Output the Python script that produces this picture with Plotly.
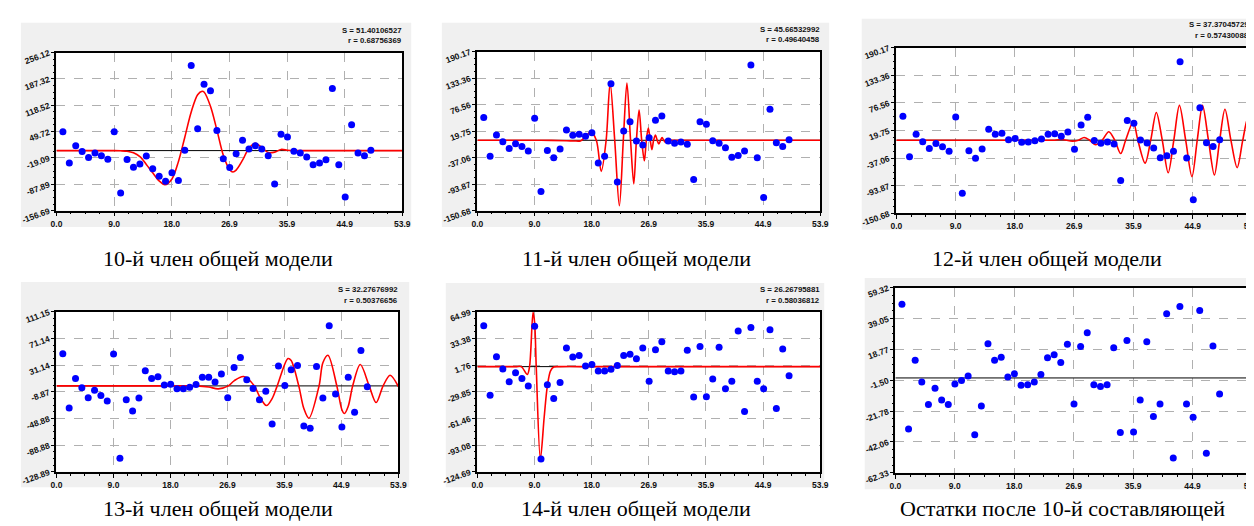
import numpy as np
import plotly.graph_objects as go

W, H = 1254, 526

# ---------------- data ----------------
X_IDX = list(range(1, 50))

DOTS_10 = [48.9, -32.5, 12.8, -2.3, -18.3, -6.5, -13.2, -22.4, 48.9, -110.5,
           -23.3, -43.4, -35.0, -14.1, -47.6, -66.9, -80.3, -57.7, -77.8, 1.0,
           222.5, 57.3, 173.0, 156.3, 52.2, -21.6, -44.3, -8.2, 27.1, 4.4,
           12.8, 4.4, -13.2, -87.1, 43.0, 35.4, -1.5, -6.5, -16.6, -36.7,
           -32.5, -24.1, 162.1, -36.7, -121.5, 67.3, -6.5, -13.2, 1.0]
DOTS_11 = [48.7, -34.1, 11.5, -3.0, -17.5, -7.2, -13.4, -23.0, 47.4, -110.0,
           -21.7, -37.5, -18.9, 21.8, 10.8, 12.9, 8.7, 16.3, -48.6, -34.1,
           121.2, -89.3, 19.7, 39.8, -1.6, -9.9, 5.3, 43.2, 52.2, -1.6,
           -6.5, -3.7, -8.5, -83.8, 39.8, 34.2, -0.9, -6.5, -16.1, -36.1,
           -32.7, -23.0, 161.2, -37.5, -122.4, 66.7, -5.1, -13.4, 1.1]
DOTS_12 = [49.1, -34.0, 12.2, -3.0, -16.9, -7.0, -13.6, -22.8, 47.8, -109.1,
           -21.5, -37.3, -18.2, 22.7, 12.2, 14.2, 1.0, 3.6, -4.3, -3.6,
           -1.0, 2.3, 12.2, 13.5, 8.2, 16.8, -18.8, 31.3, 47.1, -0.4,
           -6.3, -3.6, -7.6, -82.8, 40.5, 34.6, 0.3, -5.6, -16.2, -36.0,
           -32.0, -22.8, 161.2, -36.6, -122.3, 66.9, -5.0, -12.9, 1.0]
DOTS_13 = [48.4, -33.3, 11.2, -2.8, -17.8, -6.7, -14.4, -22.6, 47.9, -108.6,
           -20.7, -37.6, -18.3, 22.8, 11.2, 13.6, 1.5, 2.5, -4.3, -4.3,
           -1.9, 2.0, 13.1, 13.1, 5.9, 17.9, -17.8, 27.6, 42.6, 9.2,
           -3.8, -20.7, -8.2, -57.0, 30.0, 0.5, 24.2, 30.5, -60.3, -63.7,
           29.0, -18.3, 90.4, -12.0, -61.8, 13.1, -39.6, 53.2, -1.4]
DOTS_14 = [48.6, -34.0, 11.7, -2.8, -18.0, -7.4, -14.2, -23.0, 47.9, -109.5,
           -21.5, -37.9, -18.8, 22.0, 11.3, 13.2, 0.6, 2.5, -5.1, -5.1,
           -3.2, 1.4, 13.2, 14.7, 9.4, 22.0, -17.3, 20.0, 29.6, -5.1,
           -6.2, -5.1, 19.3, -36.0, 23.9, -35.6, -14.6, 23.1, -26.1, -17.3,
           42.1, -53.1, 46.3, -17.3, -26.1, 43.7, -49.7, 20.8, -10.8]
DOTS_RES = [48.5, -33.6, 11.7, -2.7, -17.5, -6.7, -14.5, -17.5, -4.0, -1.6,
            1.3, -37.4, -18.4, 22.5, 11.7, 13.6, 0.7, 2.8, -4.8, -4.4,
            -2.7, 2.2, 13.2, 15.3, 10.2, 22.1, -17.1, 20.6, 29.7, -4.4,
            -5.7, -4.4, 19.9, -35.9, 24.6, -35.5, -14.5, 23.8, -25.3, -17.1,
            42.2, -52.6, 47.0, -17.1, -25.8, 44.3, -49.5, 21.0, -10.5]

CURVE_10_X = [0, 4, 8, 9, 10, 11, 12, 13, 14, 15, 16, 16.9, 18, 19, 20, 21, 22, 22.7, 23,
              24, 25, 26, 27, 27.5, 28, 29, 30, 31, 32, 33, 34, 35, 36, 37, 40, 45, 50, 53.9]
CURVE_10_Y = [0, 0, 0, 0, -0.5, -1.6, -5.9, -16, -36, -58, -79, -89, -74, -29, 35, 101, 146, 155, 153,
              116, 54, -12, -50, -56, -51, -25, 6, 19, 8, -5, -4, 3, 1, 0, 0, 0, 0, 0]

CURVE_11_X = [0, 5, 10, 14, 15.2, 16.2, 17.0, 17.86, 18.7, 19.47, 20.24, 20.87, 21.59, 22.32,
              22.94, 23.51, 24.08, 24.59, 25.0, 25.42, 25.83, 26.25, 26.56, 26.87, 27.18, 27.44,
              27.7, 28.0, 28.27, 28.53, 28.8, 29.04, 29.3, 29.51, 29.7, 29.93, 30.3, 31, 35, 40,
              45, 50, 53.9]
CURVE_11_Y = [0, 0, 0, -0.9, -1.4, -1.3, 7.7, 18, 0, -66.6, 0, 122.7, 0, -140.4,
              0, 122.7, 0, -93.5, 0, 64.8, 0, -43.9, 0, 26.3, 0, -19.9,
              0, 11.1, 0, -8.1, 0, 5.8, 0, -4, 0, 2.8, 0, 0, 0, 0,
              0, 0, 0]

CURVE_12_X = [0, 5, 10, 15, 20, 24, 25, 26.7, 27.6, 28.45, 29.3, 30.2, 31.2, 32.2, 33.1, 34.0,
              34.75, 35.9, 36.6, 37.7, 38.55, 39.4, 40.3, 41.2, 42.05, 42.9, 43.85, 44.8, 45.6,
              46.4, 47.3, 48.2, 49.0, 49.8, 50.7, 51.65, 52.5, 53.3, 53.9]
CURVE_12_Y = [0, 0, 0, 0, 0, 0, 1.5, -2, 0, 5.6, 0, -9.5, 0, 17.5, 0, -27.4,
              0, 37.3, 0, -47.2, 0, 57, 0, -67, 0, 71.5, 0, -74.9, 0,
              71.5, 0, -71.5, 0, 63.6, 0, -56.5, 0, 47.2, 17]

CURVE_13_X = [0, 5, 10, 15, 20, 22, 24, 25.5, 27.1, 28, 29.5, 31.2, 32, 33.1, 34, 34.8, 36.5,
              37, 38.2, 39, 39.8, 41.4, 42, 42.8, 44.2, 45, 45.4, 46, 46.7, 47.9, 49.3, 50.4,
              51.5, 52.6, 53.9]
CURVE_13_Y = [0, 0, 0, 0, 0, 0, -1.6, -4.5, 0, 7.6, 14, 0, -15.6, -29.5, -19, 0, 41,
              38, 0, -34, -48.5, 0, 34.8, 46, 0, -35.7, -41.5, -30.6, 0, 32, 0, -25,
              0, 16, -1]

CURVE_14_X = [0, 3, 6, 6.9, 7.85, 8.2, 8.75, 9.0, 9.25, 9.9, 10.5, 11.0, 11.5, 12.0, 13, 18,
              25, 30, 35, 40, 45, 50, 53.9]
CURVE_14_Y = [0, 0, 0, 0, -9.3, 0, 64.5, 52, 0, -109.5, -60, -22.8, -5, -0.5, 0, 0,
              0, 0, 0, 0, 0, 0, 0]

BASELINE = 0.0

X_TICK_VALS = [0.0, 8.983, 17.967, 26.95, 35.933, 44.917, 53.9]
X_TICK_TEXT = ["0.0", "9.0", "18.0", "26.9", "35.9", "44.9", "53.9"]

Y_TICKS_10 = [-156.69, -87.89, -19.09, 49.72, 118.52, 187.32, 256.12]
Y_TICKS_11 = [-150.68, -93.87, -37.06, 19.75, 76.56, 133.36, 190.17]
Y_TICKS_12 = [-150.68, -93.87, -37.06, 19.75, 76.56, 133.36, 190.17]
Y_TICKS_13 = [-128.89, -88.88, -48.88, -8.87, 31.14, 71.14, 111.15]
Y_TICKS_14 = [-124.69, -93.08, -61.46, -29.85, 1.76, 33.38, 64.99]
Y_TICKS_RES = [-62.33, -42.06, -21.78, -1.50, 18.77, 39.05, 59.32]

STATS_10 = ["S = 51.40106527", "r = 0.68756369"]
STATS_11 = ["S = 45.66532992", "r = 0.49640458"]
STATS_12 = ["S = 37.37045729", "r = 0.57430088"]
STATS_13 = ["S = 32.27676992", "r = 0.50376656"]
STATS_14 = ["S = 26.26795881", "r = 0.58036812"]

CAPTIONS = ["10-й член общей модели", "11-й член общей модели", "12-й член общей модели",
            "13-й член общей модели", "14-й член общей модели", "Остатки после 10-й составляющей"]

# ---------------- layout (pixel boxes) ----------------
PANELS = [
    dict(dots=DOTS_10, cx=CURVE_10_X, cy=CURVE_10_Y, yt=Y_TICKS_10, stats=STATS_10,
         plot=(43, 41, 393, 205), box=(7, 10, 402, 222), cap=(206, 255), st=(394, 18, 29)),
    dict(dots=DOTS_11, cx=CURVE_11_X, cy=CURVE_11_Y, yt=Y_TICKS_11, stats=STATS_11,
         plot=(469, 40, 816, 205), box=(433, 10, 825, 222), cap=(630, 255), st=(817, 17, 28)),
    dict(dots=DOTS_12, cx=CURVE_12_X, cy=CURVE_12_Y, yt=Y_TICKS_12, stats=STATS_12,
         plot=(893, 36, 1253, 208), box=(858, 6, 1254, 225), cap=(1045, 255), st=(1251, 12, 23)),
    dict(dots=DOTS_13, cx=CURVE_13_X, cy=CURVE_13_Y, yt=Y_TICKS_13, stats=STATS_13,
         plot=(43, 310, 389, 476), box=(7, 279, 400, 492), cap=(206, 514), st=(390, 287, 298)),
    dict(dots=DOTS_14, cx=CURVE_14_X, cy=CURVE_14_Y, yt=Y_TICKS_14, stats=STATS_14,
         plot=(469, 310, 816, 476), box=(437, 280, 820, 492), cap=(630, 514), st=(817, 287, 298)),
    dict(dots=DOTS_RES, cx=None, cy=None, yt=Y_TICKS_RES, stats=None,
         plot=(892, 285, 1253, 477), box=(861, 275, 1254, 494), cap=(1061, 514), st=None),
]

GRAY = "#f0f0f0"
GRID = "#b0b0b0"
AX = "#000000"
TICKFONT = dict(family="Liberation Sans", size=8.5, color="#111111", weight="bold")


def px(x):
    return x / W


def py(y):
    return 1 - y / H


def minors(vals):
    out = []
    for a, b in zip(vals[:-1], vals[1:]):
        for k in (1, 2, 3):
            out.append(a + (b - a) * k / 4)
    return out


fig = go.Figure()
shapes = []
annotations = []
layout_axes = {}

for i, p in enumerate(PANELS, start=1):
    sfx = "" if i == 1 else str(i)
    xa, ya = "x" + sfx, "y" + sfx
    x0, y0, x1, y1 = p["plot"]
    bx0, by0, bx1, by1 = p["box"]
    shapes.append(dict(type="rect", xref="paper", yref="paper", x0=px(bx0), x1=px(bx1),
                       y0=py(by1), y1=py(by0), fillcolor=GRAY, line=dict(width=0), layer="below"))
    shapes.append(dict(type="rect", xref="paper", yref="paper", x0=px(x0), x1=px(x1),
                       y0=py(y1), y1=py(y0), fillcolor="white", line=dict(width=0), layer="below"))

    common = dict(showgrid=True, gridcolor=GRID, griddash="dash", gridwidth=1,
                  showline=True, linecolor=AX, linewidth=1.5, mirror=True,
                  ticks="outside", ticklen=4, tickwidth=1, tickcolor=AX,
                  tickfont=TICKFONT, zeroline=False, fixedrange=True)
    layout_axes["xaxis" + sfx] = dict(
        domain=[px(x0), px(x1)], anchor=ya, range=[X_TICK_VALS[0], X_TICK_VALS[-1]],
        tickmode="array", tickvals=X_TICK_VALS, ticktext=X_TICK_TEXT,
        minor=dict(tickvals=minors(X_TICK_VALS), ticks="outside", ticklen=2,
                   tickcolor=AX, showgrid=False),
        **common)
    yt = p["yt"]
    layout_axes["yaxis" + sfx] = dict(
        domain=[py(y1), py(y0)], anchor=xa, range=[yt[0], yt[-1]],
        tickmode="array", tickvals=yt, ticktext=["%.2f" % v for v in yt], tickangle=-20,
        minor=dict(tickvals=minors(yt), ticks="outside", ticklen=2,
                   tickcolor=AX, showgrid=False),
        **common)

    fig.add_trace(go.Scatter(x=[X_TICK_VALS[0], X_TICK_VALS[-1]], y=[BASELINE, BASELINE],
                             mode="lines", line=dict(color="black", width=1),
                             xaxis=xa, yaxis=ya, hoverinfo="skip"))
    if p["cx"] is not None:
        fig.add_trace(go.Scatter(x=p["cx"], y=p["cy"], mode="lines",
                                 line=dict(color="#ff0000", width=1.6, shape="spline", smoothing=0.9),
                                 xaxis=xa, yaxis=ya, hoverinfo="skip"))
    fig.add_trace(go.Scatter(x=X_IDX, y=p["dots"], mode="markers",
                             marker=dict(color="#0000ff", size=7, line=dict(width=0)),
                             xaxis=xa, yaxis=ya, cliponaxis=False))

    if p["stats"] is not None:
        sx, sy1, sy2 = p["st"]
        for txt, yy in zip(p["stats"], (sy1, sy2)):
            annotations.append(dict(text=txt, xref="paper", yref="paper", x=px(sx), y=py(yy),
                                    xanchor="right", yanchor="middle", showarrow=False,
                                    borderpad=0,
                                    font=dict(family="Liberation Sans", size=7.8, color="#111111",
                                              weight="bold")))
    cx, cy = p["cap"]
    annotations.append(dict(text=CAPTIONS[i - 1], xref="paper", yref="paper", x=px(cx), y=py(cy),
                            xanchor="center", yanchor="middle", showarrow=False,
                            font=dict(family="Liberation Serif", size=22, color="black")))

fig.update_layout(width=W, height=H, margin=dict(l=0, r=0, t=0, b=0),
                  paper_bgcolor="white", plot_bgcolor="white", showlegend=False,
                  shapes=shapes, annotations=annotations, **layout_axes)

fig.write_html("out.html")
